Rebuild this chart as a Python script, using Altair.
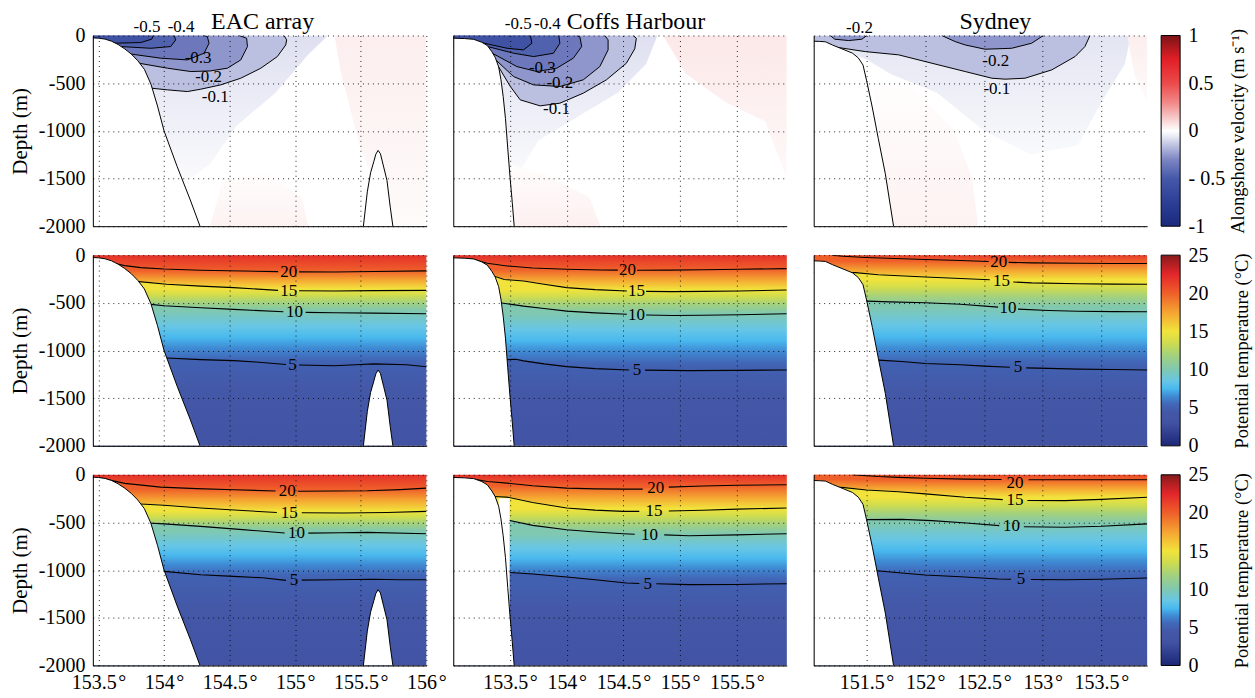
import statistics
import altair as alt
import pandas as pd

FONT = "Liberation Serif"

# ------------------------------------------------------------------ axes / sites
site_names = ["EAC array", "Coffs Harbour", "Sydney"]
title_dx = [3, 16, 15]
lon_domain_eac = [153.457, 156.0]
lon_domain_coffs = [153.0, 155.94]
lon_domain_syd = [151.05, 153.89]
lon_ticks_eac = [153.5, 154.0, 154.5, 155.0, 155.5, 156.0]
lon_ticks_coffs = [153.5, 154.0, 154.5, 155.0, 155.5]
lon_ticks_syd = [151.5, 152.0, 152.5, 153.0, 153.5]
depth_domain = [-2000, 0]
depth_ticks = [0, -500, -1000, -1500, -2000]
vel_ticks = [-1, -0.5, 0, 0.5, 1]
temp_ticks = [0, 5, 10, 15, 20, 25]

# ------------------------------------------------------------------ bathymetry
bathy_eac_lon = [153.457, 153.50, 153.55, 153.60, 153.65, 153.70, 153.75, 153.80, 153.85, 153.90, 153.95, 154.00, 154.10, 154.20, 154.274]
bathy_eac_dep = [-25, -28, -38, -60, -95, -140, -195, -265, -355, -510, -740, -1000, -1375, -1725, -2000]
seamount_eac_lon = [155.52, 155.55, 155.575, 155.60, 155.615, 155.632, 155.65, 155.675, 155.70, 155.725, 155.745]
seamount_eac_dep = [-2000, -1640, -1440, -1320, -1245, -1205, -1240, -1380, -1520, -1800, -2000]
bathy_coffs_lon = [153.0, 153.10, 153.18, 153.25, 153.30, 153.34, 153.37, 153.40, 153.42, 153.44, 153.46, 153.48, 153.50, 153.52, 153.537]
bathy_coffs_dep = [-28, -32, -40, -70, -105, -170, -230, -330, -460, -640, -870, -1180, -1480, -1750, -2000]
bathy_syd_lon = [151.05, 151.10, 151.15, 151.21, 151.30, 151.38, 151.43, 151.47, 151.50, 151.55, 151.60, 151.66, 151.73]
bathy_syd_dep = [-60, -62, -66, -100, -145, -185, -235, -310, -470, -760, -1080, -1450, -2000]
mask_coffs_row3_lon = [153.40, 153.497]
mask_coffs_row3_dep = [-245, -245]

# ------------------------------------------------------------------ alongshore velocity contours
v_eac_01_lon = [153.905, 154.026, 154.178, 154.28, 154.432, 154.585, 154.738, 154.864, 154.928, 154.935, 154.915]
v_eac_01_dep = [-553, -570, -588, -563, -518, -448, -343, -221, -99, -46, 0]
v_eac_02_lon = [153.81, 154.026, 154.204, 154.35, 154.483, 154.585, 154.636, 154.63, 154.572]
v_eac_02_dep = [-291, -343, -378, -372, -343, -256, -116, -29, 0]
v_eac_03_lon = [153.75, 153.975, 154.178, 154.305, 154.343, 154.33, 154.30]
v_eac_03_dep = [-195, -238, -256, -186, -81, -11, 0]
v_eac_04_lon = [153.67, 153.899, 154.051, 154.089, 154.076]
v_eac_04_dep = [-116, -134, -116, -46, 0]
v_eac_05_lon = [153.62, 153.822, 153.905, 153.92]
v_eac_05_dep = [-81, -74, -39, 0]

v_coffs_01_lon = [153.40, 153.503, 153.59, 153.766, 153.94, 154.146, 154.35, 154.526, 154.60, 154.614, 154.585]
v_coffs_01_dep = [-330, -535, -675, -738, -710, -605, -465, -291, -140, -29, 0]
v_coffs_02_lon = [153.38, 153.532, 153.708, 153.94, 154.146, 154.292, 154.365, 154.365, 154.336]
v_coffs_02_dep = [-262, -431, -518, -535, -465, -326, -151, -46, 0]
v_coffs_03_lon = [153.35, 153.561, 153.737, 153.912, 154.058, 154.132, 154.117, 154.09]
v_coffs_03_dep = [-190, -326, -378, -343, -238, -116, -18, 0]
v_coffs_04_lon = [153.31, 153.532, 153.708, 153.883, 153.94, 153.93]
v_coffs_04_dep = [-118, -186, -221, -186, -81, 0]
v_coffs_05_lon = [153.26, 153.474, 153.62, 153.693, 153.68]
v_coffs_05_dep = [-78, -134, -151, -81, 0]

v_syd_01_lon = [151.206, 151.49, 151.773, 152.057, 152.34, 152.567, 152.68, 152.85, 153.077, 153.276, 153.36, 153.403]
v_syd_01_dep = [-116, -169, -203, -291, -378, -448, -458, -448, -361, -221, -116, 0]
v_syd_02a_lon = [151.19, 151.23, 151.348, 151.46, 151.503]
v_syd_02a_dep = [0, -39, -53, -39, 0]
v_syd_02b_lon = [152.14, 152.255, 152.34, 152.51, 152.736, 152.906, 153.006]
v_syd_02b_dep = [0, -64, -99, -144, -134, -81, 0]

# faint velocity tints (polygons); value at the top and at the bottom of each (m/s)
tint_eac_blue_lon = [153.457, 155.25, 155.1, 154.85, 154.55, 154.35, 154.15, 153.95, 153.457]
tint_eac_blue_dep = [0, 0, -200, -600, -950, -1350, -1550, -1300, -1000]
tint_eac_pink1_lon = [155.3, 156.0, 156.0, 155.75, 155.5, 155.35]
tint_eac_pink1_dep = [0, 0, -2000, -2000, -1200, -400]
tint_eac_pink2_lon = [154.35, 154.45, 154.8, 155.05, 155.1]
tint_eac_pink2_dep = [-2000, -1500, -1450, -1700, -2000]
tint_coffs_blue_lon = [153.0, 154.8, 154.7, 154.45, 154.1, 153.75, 153.55, 153.45]
tint_coffs_blue_dep = [0, 0, -300, -600, -850, -1100, -1500, -1500]
tint_coffs_pink1_lon = [154.85, 155.94, 155.94, 155.75, 155.4, 155.05]
tint_coffs_pink1_dep = [0, 0, -1500, -900, -700, -400]
tint_coffs_pink2_lon = [153.5, 153.8, 154.2, 154.3, 153.52]
tint_coffs_pink2_dep = [-1350, -1450, -1700, -2000, -2000]
tint_syd_blue_lon = [151.2, 153.75, 153.7, 153.5, 153.3, 152.9, 152.5, 152.1, 151.7, 151.5, 151.2]
tint_syd_blue_dep = [0, 0, -300, -700, -1150, -1250, -1000, -600, -400, -250, -120]
tint_syd_pink1_lon = [151.55, 151.9, 152.25, 152.4, 152.45, 151.7]
tint_syd_pink1_dep = [-500, -550, -1000, -1500, -2000, -2000]
tint_syd_pink2_lon = [153.72, 153.89, 153.89, 153.78]
tint_syd_pink2_dep = [0, 0, -700, -400]
tint_eac_values = {"blue": (-0.08, -0.01), "pink1": (0.045, 0.01), "pink2": (0.005, 0.035)}
tint_coffs_values = {"blue": (-0.08, -0.01), "pink1": (0.06, 0.015), "pink2": (0.005, 0.04)}
tint_syd_values = {"blue": (-0.07, -0.015), "pink1": (0.005, 0.035), "pink2": (0.045, 0.01)}

vel_label_eac = [("-0.5", 153.87, 93), ("-0.4", 154.13, 93), ("-0.3", 154.26, -238), ("-0.2", 154.34, -431), ("-0.1", 154.39, -640)]
vel_label_coffs = [("-0.5", 153.573, 121), ("-0.4", 153.83, 121), ("-0.3", 153.785, -338), ("-0.2", 153.94, -495), ("-0.1", 153.91, -769)]
vel_label_syd = [("-0.2", 151.44, 76), ("-0.2", 152.60, -263), ("-0.1", 152.61, -560)]

# ------------------------------------------------------------------ isotherms (None = label gap)
# row 2
t2_eac_20_lon = [153.594, 153.70, 153.822, 154.0, 154.28, 154.6, 154.87, None, 155.03, 155.3, 155.6, 156.0]
t2_eac_20_dep = [-78, -110, -131, -145, -158, -166, -173, None, -175, -176, -172, -165]
t2_eac_15_lon = [153.81, 154.02, 154.28, 154.53, 154.87, None, 155.03, 155.3, 155.6, 156.0]
t2_eac_15_dep = [-278, -306, -325, -341, -369, None, -374, -376, -372, -369]
t2_eac_10_lon = [153.899, 154.0, 154.28, 154.53, 154.91, None, 155.08, 155.3, 155.6, 156.0]
t2_eac_10_dep = [-516, -530, -552, -569, -594, None, -600, -604, -608, -615]
t2_eac_05_lon = [154.02, 154.28, 154.53, 154.7, 154.93, None, 155.03, 155.3, 155.5, 155.6, 155.85, 156.0]
t2_eac_05_dep = [-1078, -1096, -1106, -1120, -1147, None, -1152, -1160, -1147, -1140, -1150, -1170]

t2_coffs_20_lon = [153.167, 153.3, 153.474, 153.7, 154.0, 154.3, 154.45, None, 154.62, 154.9, 155.2, 155.52, 155.94]
t2_coffs_20_dep = [-42, -85, -113, -135, -148, -155, -157, None, -158, -157, -153, -148, -141]
t2_coffs_15_lon = [153.356, 153.45, 153.62, 153.8, 154.0, 154.25, 154.53, None, 154.70, 154.935, 155.2, 155.52, 155.94]
t2_coffs_15_dep = [-218, -255, -271, -305, -341, -362, -376, None, -380, -383, -380, -376, -365]
t2_coffs_10_lon = [153.415, 153.62, 153.8, 154.0, 154.25, 154.53, None, 154.70, 154.935, 155.2, 155.52, 155.94]
t2_coffs_10_dep = [-500, -535, -560, -587, -605, -620, None, -628, -633, -630, -625, -615]
t2_coffs_05_lon = [153.474, 153.55, 153.62, 153.8, 154.0, 154.25, 154.55, None, 154.69, 155.08, 155.5, 155.94]
t2_coffs_05_dep = [-1096, -1092, -1109, -1140, -1169, -1190, -1204, None, -1206, -1211, -1208, -1204]

t2_syd_20_lon = [151.206, 151.3, 151.49, 152.0, 152.3, 152.54, None, 152.71, 152.906, 153.3, 153.6, 153.89]
t2_syd_20_dep = [0, -12, -24, -45, -56, -66, None, -76, -81, -85, -87, -88]
t2_syd_15_lon = [151.405, 151.6, 152.0, 152.3, 152.55, None, 152.75, 152.906, 153.3, 153.6, 153.89]
t2_syd_15_dep = [-183, -205, -229, -245, -258, None, -282, -291, -300, -304, -306]
t2_syd_10_lon = [151.504, 151.7, 152.0, 152.3, 152.62, None, 152.79, 153.05, 153.3, 153.6, 153.89]
t2_syd_10_dep = [-482, -490, -500, -515, -545, None, -566, -580, -588, -592, -594]
t2_syd_05_lon = [151.6, 151.8, 152.0, 152.3, 152.5, 152.72, None, 152.86, 153.05, 153.3, 153.6, 153.89]
t2_syd_05_dep = [-1101, -1115, -1136, -1150, -1164, -1175, None, -1182, -1188, -1195, -1200, -1204]

# row 3
t3_eac_20_lon = [153.518, 153.7, 153.975, 154.25, 154.534, 154.85, None, 155.02, 155.3, 155.55, 155.8, 156.0]
t3_eac_20_dep = [-35, -90, -129, -145, -157, -170, None, -172, -170, -168, -155, -140]
t3_eac_15_lon = [153.822, 154.0, 154.28, 154.6, 154.86, None, 155.05, 155.37, 155.7, 156.0]
t3_eac_15_dep = [-307, -320, -349, -375, -395, None, -398, -401, -395, -384]
t3_eac_10_lon = [153.873, 154.0, 154.28, 154.6, 154.92, None, 155.1, 155.35, 155.55, 156.0]
t3_eac_10_dep = [-506, -515, -541, -575, -611, None, -612, -608, -604, -618]
t3_eac_05_lon = [154.0, 154.28, 154.53, 154.75, 154.93, None, 155.05, 155.3, 155.6, 155.8, 156.0]
t3_eac_05_dep = [-1013, -1048, -1065, -1080, -1107, None, -1105, -1100, -1095, -1100, -1100]

t3_coffs_20_lon = [153.18, 153.3, 153.474, 153.7, 154.0, 154.25, 154.5, 154.67, None, 154.9, 155.2, 155.5, 155.94]
t3_coffs_20_dep = [-45, -70, -87, -115, -140, -148, -150, -150, None, -129, -118, -110, -105]
t3_coffs_15_lon = [153.356, 153.474, 153.7, 154.0, 154.25, 154.497, 154.64, None, 154.9, 155.2, 155.5, 155.94]
t3_coffs_15_dep = [-227, -234, -290, -349, -370, -384, -384, None, -380, -372, -360, -349]
t3_coffs_10_lon = [153.497, 153.7, 154.0, 154.25, 154.497, 154.6, None, 154.86, 155.08, 155.5, 155.94]
t3_coffs_10_dep = [-479, -530, -576, -600, -618, -624, None, -630, -639, -630, -618]
t3_coffs_05_lon = [153.497, 153.7, 154.0, 154.25, 154.526, 154.64, None, 154.79, 155.08, 155.5, 155.94]
t3_coffs_05_dep = [-1024, -1040, -1072, -1100, -1135, -1140, None, -1142, -1152, -1150, -1142]

t3_syd_20_lon = [151.376, 151.6, 151.773, 152.0, 152.34, 152.65, None, 152.88, 153.19, 153.5, 153.89]
t3_syd_20_dep = [0, -18, -27, -36, -45, -50, None, -52, -52, -52, -52]
t3_syd_15_lon = [151.29, 151.5, 151.773, 152.0, 152.34, 152.66, None, 152.87, 153.19, 153.5, 153.89]
t3_syd_15_dep = [-132, -160, -177, -200, -236, -260, None, -270, -271, -258, -236]
t3_syd_10_lon = [151.50, 151.8, 152.057, 152.35, 152.63, None, 152.84, 153.19, 153.5, 153.89]
t3_syd_10_dep = [-470, -468, -481, -505, -533, None, -545, -550, -540, -515]
t3_syd_05_lon = [151.585, 151.8, 152.0, 152.3, 152.623, 152.73, None, 152.9, 153.19, 153.5, 153.89]
t3_syd_05_dep = [-1006, -1030, -1051, -1070, -1093, -1096, None, -1098, -1100, -1095, -1083]

t_surface_row2 = [22.0, 22.0, 21.5]
t_surface_row3 = [22.0, 22.0, 21.0]
t_bottom = 3.3

t2_label_eac = [("20", 154.95, -174), ("15", 154.95, -371), ("10", 154.995, -597), ("5", 154.98, -1150)]
t2_label_coffs = [("20", 154.535, -157), ("15", 154.615, -378), ("10", 154.615, -624), ("5", 154.62, -1205)]
t2_label_syd = [("20", 152.625, -71), ("15", 152.65, -270), ("10", 152.705, -556), ("5", 152.79, -1178)]
t3_label_eac = [("20", 154.94, -171), ("15", 154.955, -397), ("10", 155.01, -612), ("5", 154.99, -1106)]
t3_label_coffs = [("20", 154.785, -140), ("15", 154.77, -382), ("10", 154.73, -627), ("5", 154.715, -1141)]
t3_label_syd = [("20", 152.765, -90), ("15", 152.765, -265), ("10", 152.735, -539), ("5", 152.815, -1097)]

# ------------------------------------------------------------------ colour maps (style)
VEL_KNOTS = [(-1.0, "#1a2a7c"), (-0.75, "#2c3f95"), (-0.5, "#4558a8"), (-0.3, "#7d86c3"),
             (-0.15, "#bfc3e2"), (-0.05, "#ecedf6"), (0.0, "#ffffff"), (0.05, "#fcecec"),
             (0.15, "#f7c3c3"), (0.3, "#f28787"), (0.5, "#ec4a4a"), (0.75, "#e11f26"), (1.0, "#7b1316")]
TEMP_KNOTS = [(0, "#1c2676"), (3, "#4252a3"), (4.5, "#4458a8"), (5.5, "#4168b8"), (6.5, "#3f8ad3"),
              (7.5, "#49b9ee"), (8.5, "#67c6e6"), (10, "#80c8b0"), (12, "#a6d27a"), (13.5, "#cfdc4f"),
              (15, "#f1e33c"), (17.5, "#f5a432"), (20, "#ef5f2a"), (22.5, "#e3262a"), (25, "#861a1c")]


def _rgb(h):
    return tuple(int(h[i:i + 2], 16) for i in (1, 3, 5))


def cmap(knots, v):
    if v <= knots[0][0]:
        return knots[0][1]
    for (a, ca), (b, cb) in zip(knots, knots[1:]):
        if v <= b:
            f = (v - a) / (b - a)
            return "#%02x%02x%02x" % tuple(round(x + (y - x) * f) for x, y in zip(_rgb(ca), _rgb(cb)))
    return knots[-1][1]


def vgrad(v_top, v_bot):
    return alt.Gradient(gradient="linear", x1=0, x2=0, y1=0, y2=1,
                        stops=[alt.GradientStop(offset=0, color=cmap(VEL_KNOTS, v_top)),
                               alt.GradientStop(offset=1, color=cmap(VEL_KNOTS, v_bot))])


# ------------------------------------------------------------------ helpers
W = 334
H = 191


def xenc(dom, ticks, labels):
    return alt.X("lon:Q", scale=alt.Scale(domain=dom, nice=False, zero=False),
                 axis=alt.Axis(values=ticks, labels=labels, labelExpr="datum.value + '\u200a\u00b0'",
                               title=None, grid=True, gridColor="black", gridDash=[1, 4], gridOpacity=0.85,
                               ticks=False, domain=True, domainColor="black", domainWidth=1,
                               labelFont=FONT, labelFontSize=20, labelPadding=7, labelColor="black",
                               labelFlush=False, labelOverlap=False, zindex=1))


def yenc(labels, title):
    return alt.Y("depth:Q", scale=alt.Scale(domain=depth_domain, nice=False, zero=False),
                 axis=alt.Axis(values=depth_ticks, labels=labels, labelExpr="datum.value + ''",
                               title=title, titleFont=FONT, titleFontSize=21, titleFontWeight="normal",
                               titleColor="black", titlePadding=8, grid=True, gridColor="black",
                               gridDash=[1, 4], gridOpacity=0.85,
                               ticks=False, domain=True, domainColor="black", domainWidth=1,
                               labelFont=FONT, labelFontSize=20, labelPadding=8, labelColor="black",
                               labelFlush=False, labelOverlap=False, zindex=1))


def points(lons, deps):
    return [(l, d) for l, d in zip(lons, deps) if l is not None]


def polygon_layer(pts, enc, fill, stroke=None, sw=0.0):
    df = pd.DataFrame({"lon": [p[0] for p in pts], "depth": [p[1] for p in pts], "i": list(range(len(pts)))})
    kw = dict(fill=fill, clip=True)
    if stroke is not None:
        kw.update(stroke=stroke, strokeWidth=sw)
    else:
        kw.update(strokeOpacity=0)
    return alt.Chart(df).mark_line(**kw).encode(x=enc[0], y=enc[1], order="i:Q")


def lines_layer(curves, xmin, enc, width=1.0):
    rows = []
    sid = 0
    for lons, deps in curves:
        segs, cur = [], []
        for l, d in zip(lons, deps):
            if l is None:
                segs.append(cur)
                cur = []
            else:
                cur.append((l, d))
        segs.append(cur)
        if segs[0][0][1] < 0 and segs[0][0][0] > xmin:
            segs[0] = [(xmin, segs[0][0][1])] + segs[0]
        for s in segs:
            for k, (l, d) in enumerate(s):
                rows.append({"lon": l, "depth": d, "seg": sid, "i": k})
            sid += 1
    df = pd.DataFrame(rows)
    return alt.Chart(df).mark_line(color="black", strokeWidth=width, clip=True).encode(
        x=enc[0], y=enc[1], detail="seg:N", order="i:Q")


def labels_layer(labels, enc, size=16):
    df = pd.DataFrame({"txt": [t[0] for t in labels], "lon": [t[1] for t in labels], "depth": [t[2] for t in labels]})
    return alt.Chart(df).mark_text(font=FONT, fontSize=size, color="black", baseline="middle", align="center").encode(
        x=enc[0], y=enc[1], text="txt:N")


def land_layers(lons, deps, extra, enc):
    out = []
    for ll, dd in [(lons, deps)] + extra:
        df = pd.DataFrame({"lon": ll, "depth": dd, "bot": [depth_domain[0]] * len(ll)})
        out.append(alt.Chart(df).mark_area(color="white", clip=True).encode(x=enc[0], y=enc[1], y2="bot:Q"))
    return out


def bathy_lines(curves, enc):
    rows = []
    for sid, (ll, dd) in enumerate(curves):
        for k, (l, d) in enumerate(zip(ll, dd)):
            rows.append({"lon": l, "depth": d, "seg": sid, "i": k})
    return alt.Chart(pd.DataFrame(rows)).mark_line(color="black", strokeWidth=1, clip=True).encode(
        x=enc[0], y=enc[1], detail="seg:N", order="i:Q")


def band_gradient(t_top, t_bot, top_deps, bot_deps):
    bb_top, bb_bot = max(top_deps), min(bot_deps)
    h = bb_top - bb_bot
    o1 = (bb_top - statistics.median(top_deps)) / h
    o2 = (bb_top - statistics.median(bot_deps)) / h
    o1, o2 = max(0.0, min(1.0, o1)), max(0.0, min(1.0, o2))
    stops = [(0.0, cmap(TEMP_KNOTS, t_top)), (o1, cmap(TEMP_KNOTS, t_top))]
    for t, _ in sorted(TEMP_KNOTS, key=lambda k: -k[0]):
        if t_bot < t < t_top:
            stops.append((o1 + (t_top - t) / (t_top - t_bot) * (o2 - o1), cmap(TEMP_KNOTS, t)))
    stops += [(o2, cmap(TEMP_KNOTS, t_bot)), (1.0, cmap(TEMP_KNOTS, t_bot))]
    stops.sort(key=lambda s: s[0])
    return alt.Gradient(gradient="linear", x1=0, x2=0, y1=0, y2=1,
                        stops=[alt.GradientStop(offset=round(o, 4), color=c) for o, c in stops])


# ------------------------------------------------------------------ site tables
DOMS = [lon_domain_eac, lon_domain_coffs, lon_domain_syd]
TICKS = [lon_ticks_eac, lon_ticks_coffs, lon_ticks_syd]
BATHY = [(bathy_eac_lon, bathy_eac_dep), (bathy_coffs_lon, bathy_coffs_dep), (bathy_syd_lon, bathy_syd_dep)]
VEL = [
    [(v_eac_01_lon, v_eac_01_dep, -0.1), (v_eac_02_lon, v_eac_02_dep, -0.2), (v_eac_03_lon, v_eac_03_dep, -0.3),
     (v_eac_04_lon, v_eac_04_dep, -0.4), (v_eac_05_lon, v_eac_05_dep, -0.5)],
    [(v_coffs_01_lon, v_coffs_01_dep, -0.1), (v_coffs_02_lon, v_coffs_02_dep, -0.2), (v_coffs_03_lon, v_coffs_03_dep, -0.3),
     (v_coffs_04_lon, v_coffs_04_dep, -0.4), (v_coffs_05_lon, v_coffs_05_dep, -0.5)],
    [(v_syd_01_lon, v_syd_01_dep, -0.1), (v_syd_02a_lon, v_syd_02a_dep, -0.2), (v_syd_02b_lon, v_syd_02b_dep, -0.2)],
]
TINTS = [
    [(tint_eac_blue_lon, tint_eac_blue_dep, tint_eac_values["blue"]),
     (tint_eac_pink1_lon, tint_eac_pink1_dep, tint_eac_values["pink1"]),
     (tint_eac_pink2_lon, tint_eac_pink2_dep, tint_eac_values["pink2"])],
    [(tint_coffs_blue_lon, tint_coffs_blue_dep, tint_coffs_values["blue"]),
     (tint_coffs_pink1_lon, tint_coffs_pink1_dep, tint_coffs_values["pink1"]),
     (tint_coffs_pink2_lon, tint_coffs_pink2_dep, tint_coffs_values["pink2"])],
    [(tint_syd_blue_lon, tint_syd_blue_dep, tint_syd_values["blue"]),
     (tint_syd_pink1_lon, tint_syd_pink1_dep, tint_syd_values["pink1"]),
     (tint_syd_pink2_lon, tint_syd_pink2_dep, tint_syd_values["pink2"])],
]
VEL_LABELS = [vel_label_eac, vel_label_coffs, vel_label_syd]
ISO = {
    1: [[(t2_eac_20_lon, t2_eac_20_dep), (t2_eac_15_lon, t2_eac_15_dep), (t2_eac_10_lon, t2_eac_10_dep), (t2_eac_05_lon, t2_eac_05_dep)],
        [(t2_coffs_20_lon, t2_coffs_20_dep), (t2_coffs_15_lon, t2_coffs_15_dep), (t2_coffs_10_lon, t2_coffs_10_dep), (t2_coffs_05_lon, t2_coffs_05_dep)],
        [(t2_syd_20_lon, t2_syd_20_dep), (t2_syd_15_lon, t2_syd_15_dep), (t2_syd_10_lon, t2_syd_10_dep), (t2_syd_05_lon, t2_syd_05_dep)]],
    2: [[(t3_eac_20_lon, t3_eac_20_dep), (t3_eac_15_lon, t3_eac_15_dep), (t3_eac_10_lon, t3_eac_10_dep), (t3_eac_05_lon, t3_eac_05_dep)],
        [(t3_coffs_20_lon, t3_coffs_20_dep), (t3_coffs_15_lon, t3_coffs_15_dep), (t3_coffs_10_lon, t3_coffs_10_dep), (t3_coffs_05_lon, t3_coffs_05_dep)],
        [(t3_syd_20_lon, t3_syd_20_dep), (t3_syd_15_lon, t3_syd_15_dep), (t3_syd_10_lon, t3_syd_10_dep), (t3_syd_05_lon, t3_syd_05_dep)]],
}
T_LABELS = {1: [t2_label_eac, t2_label_coffs, t2_label_syd], 2: [t3_label_eac, t3_label_coffs, t3_label_syd]}
T_SURF = {1: t_surface_row2, 2: t_surface_row3}
ISO_VALUES = [20, 15, 10, 5]


def panel_layers(row, col):
    xmin, xmax = DOMS[col]
    enc = (xenc(DOMS[col], TICKS[col], row == 2), yenc(col == 0, "Depth (m)" if col == 0 else None))
    layers = []
    if row == 0:
        for ll, dd, (vt, vb) in TINTS[col]:
            layers.append(polygon_layer(points(ll, dd), enc, vgrad(vt, vb)))
        for ll, dd, lev in VEL[col]:
            pts = points(ll, dd)
            if pts[0][1] < 0:
                pts = [(xmin, pts[0][1])] + pts + [(xmin, 0)]
            layers.append(polygon_layer(pts, enc, cmap(VEL_KNOTS, lev - 0.06)))
        layers.append(lines_layer([(ll, dd) for ll, dd, _ in VEL[col]], xmin, enc))
        labels = VEL_LABELS[col]
    else:
        bounds = [[(xmin, 0), (xmax, 0)]]
        for ll, dd in ISO[row][col]:
            pts = points(ll, dd)
            if pts[0][0] > xmin:
                pts = [(xmin, pts[0][1])] + pts
            if pts[-1][0] < xmax:
                pts = pts + [(xmax, pts[-1][1])]
            bounds.append(pts)
        bounds.append([(xmin, depth_domain[0]), (xmax, depth_domain[0])])
        temps = [T_SURF[row][col]] + ISO_VALUES + [t_bottom]
        for k in range(5):
            top, bot = bounds[k], bounds[k + 1]
            g = band_gradient(temps[k], temps[k + 1], [p[1] for p in top], [p[1] for p in bot])
            layers.append(polygon_layer(top + bot[::-1], enc, g, stroke=g, sw=1.2))
        layers.append(lines_layer(ISO[row][col], xmin, enc, width=1.1))
        labels = T_LABELS[row][col]
    extra = []
    if col == 0:
        extra.append((seamount_eac_lon, seamount_eac_dep))
    if col == 1 and row == 2:
        extra.append((mask_coffs_row3_lon, mask_coffs_row3_dep))
    layers += land_layers(BATHY[col][0], BATHY[col][1], extra, enc)
    bl = [BATHY[col]] + ([(seamount_eac_lon, seamount_eac_dep)] if col == 0 else [])
    layers.append(bathy_lines(bl, enc))
    layers.append(labels_layer(labels, enc, 17))
    if row == 0:
        tdf = pd.DataFrame({"t": [site_names[col]]})
        layers.append(alt.Chart(tdf).mark_text(font=FONT, fontSize=24, baseline="alphabetic", align="center",
                                               color="black").encode(
            x=alt.value(W / 2 + title_dx[col]), y=alt.value(-7), text="t:N"))
    return alt.layer(*layers)


def colorbar_layer(vmin, vmax, knots, values, label_expr, title, title_pad):
    df = pd.DataFrame({"lo": [vmin], "hi": [vmax]})
    grad = alt.Gradient(gradient="linear", x1=0, x2=0, y1=1, y2=0,
                        stops=[alt.GradientStop(offset=round((v - vmin) / (vmax - vmin), 4), color=c) for v, c in knots])
    return alt.Chart(df).mark_rect(fill=grad, stroke="black", strokeWidth=1).encode(
        x=alt.value(W + 14), x2=alt.value(W + 33),
        y=alt.Y("lo:Q", scale=alt.Scale(domain=[vmin, vmax], nice=False, zero=False),
                axis=alt.Axis(orient="right", offset=33, values=values, labelExpr=label_expr, title=title,
                              titleAngle=270, titleBaseline="top", titleFont=FONT, titleFontSize=18.5,
                              titleFontWeight="normal", titleColor="black",
                              titlePadding=title_pad, grid=False, ticks=False, domain=False,
                              labelFont=FONT, labelFontSize=20, labelPadding=8, labelColor="black",
                              labelFlush=False, labelOverlap=False)),
        y2="hi:Q")


cbars = [
    colorbar_layer(-1, 1, VEL_KNOTS, vel_ticks, "datum.value == -0.5 ? '- 0.5' : datum.value + ''",
                   "Alongshore velocity (m s\u207b\u00b9)", 4),
    colorbar_layer(0, 25, TEMP_KNOTS, temp_ticks, "datum.value + ''", "Potential temperature (\u00b0C)", 24),
    colorbar_layer(0, 25, TEMP_KNOTS, temp_ticks, "datum.value + ''", "Potential temperature (\u00b0C)", 24),
]

panels = []
for r in range(3):
    for c in range(3):
        base = panel_layers(r, c)
        if c == 2:
            ch = alt.layer(base, cbars[r]).resolve_scale(y="independent")
        else:
            ch = base
        panels.append(ch.properties(width=W, height=H))

chart = alt.concat(*panels, columns=3, spacing={"row": 29, "column": 27}, bounds="flush")
chart = chart.properties(padding={"left": 9, "top": 9, "right": 4, "bottom": 4}).configure(
    font=FONT).configure_view(stroke=None).configure_axis(labelFont=FONT, titleFont=FONT).configure_text(font=FONT)

chart.save("out.html", embed_options={"renderer": "svg", "actions": False})
